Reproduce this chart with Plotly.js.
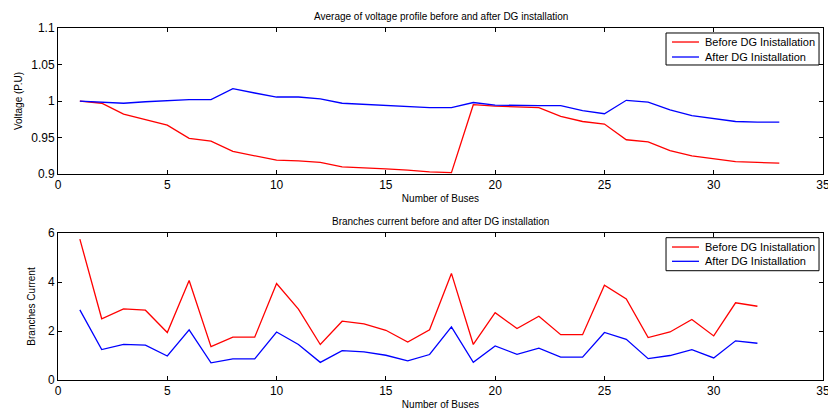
<!DOCTYPE html>
<html><head><meta charset="utf-8">
<script src="https://cdn.plot.ly/plotly-3.0.1.min.js"></script>
<style>body{margin:0;background:#fff}#c{width:828px;height:413px}</style>
</head><body><div id="c"></div>
<script>
const busV = [1,2,3,4,5,6,7,8,9,10,11,12,13,14,15,16,17,18,19,20,21,22,23,24,25,26,27,28,29,30,31,32,33];
const vBefore = [1.0,0.997,0.982,0.975,0.967,0.949,0.945,0.931,0.925,0.919,0.918,0.916,0.910,0.908,0.907,0.9055,0.903,0.902,0.995,0.993,0.992,0.991,0.979,0.972,0.9685,0.947,0.944,0.932,0.925,0.921,0.917,0.916,0.915];
const vAfter = [1.0,0.999,0.997,0.999,1.0005,1.002,1.002,1.017,1.011,1.0055,1.0055,1.003,0.997,0.9955,0.9945,0.9927,0.991,0.991,0.998,0.9945,0.9936,0.9936,0.9936,0.987,0.9826,1.001,0.9986,0.988,0.980,0.976,0.972,0.971,0.971];
const busI = [1,2,3,4,5,6,7,8,9,10,11,12,13,14,15,16,17,18,19,20,21,22,23,24,25,26,27,28,29,30,31,32];
const iBefore = [5.75,2.5,2.9,2.85,1.94,4.06,1.36,1.75,1.75,3.94,2.89,1.45,2.4,2.29,2.03,1.55,2.05,4.35,1.45,2.75,2.1,2.6,1.85,1.85,3.87,3.31,1.73,1.96,2.47,1.8,3.15,3.01];
const iAfter = [2.86,1.24,1.45,1.42,0.98,2.05,0.7,0.86,0.86,1.96,1.45,0.72,1.2,1.15,1.01,0.78,1.04,2.17,0.72,1.39,1.05,1.3,0.93,0.93,1.94,1.66,0.87,1.0,1.24,0.9,1.6,1.5];
const names = ['Before DG Inistallation','After DG Inistallation'];
const colors = ['#ff0000','#0000ff'];
const titles = ['Average of voltage profile before and after DG installation','Branches current before and after DG installation'];

const FONT = 'Liberation Sans, Arial, sans-serif';
const traces = [
  {x: busV, y: vBefore, name: names[0], mode:'lines', line:{color:colors[0], width:1.3}, xaxis:'x', yaxis:'y', showlegend:false},
  {x: busV, y: vAfter, name: names[1], mode:'lines', line:{color:colors[1], width:1.3}, xaxis:'x', yaxis:'y', showlegend:false},
  {x: busI, y: iBefore, name: names[0], mode:'lines', line:{color:colors[0], width:1.3}, xaxis:'x2', yaxis:'y2', showlegend:false},
  {x: busI, y: iAfter, name: names[1], mode:'lines', line:{color:colors[1], width:1.3}, xaxis:'x2', yaxis:'y2', showlegend:false}
];
const axBase = {showgrid:false, zeroline:false, showline:true, mirror:'ticks', linecolor:'#000', linewidth:1,
  ticks:'inside', ticklen:4, tickcolor:'#000', ticklabeloverflow:'allow', tickfont:{family:FONT, size:12, color:'#000'}};

// manual legend boxes (paper coords)
const shapes = [];
const annotations = [];
function addLegend(boxTop, boxBot, rowYs) {
  shapes.push({type:'rect', xref:'paper', yref:'paper', x0:0.7948, x1:0.9948, y0:boxBot, y1:boxTop, line:{color:'#000', width:1}, fillcolor:'#fff', layer:'above'});
  rowYs.forEach((yy, i) => {
    shapes.push({type:'line', xref:'paper', yref:'paper', x0:0.8026, x1:0.8379, y0:yy, y1:yy, line:{color:colors[i], width:1.3}, layer:'above'});
    annotations.push({text:names[i], xref:'paper', yref:'paper', x:0.8431, y:yy, xanchor:'left', yanchor:'middle', showarrow:false,
      font:{family:FONT, size:11, color:'#000'}});
  });
}
addLegend(0.9858, 0.8949, [0.9602, 0.9176]);
addLegend(0.4043, 0.3105, [0.3778, 0.3372]);
annotations.push(
  {text:titles[0], xref:'paper', yref:'paper', x:0.5, y:1, yshift:4, xanchor:'center', yanchor:'bottom', showarrow:false, font:{family:FONT, size:10, color:'#000'}},
  {text:titles[1], xref:'paper', yref:'paper', x:0.5, y:0.4176, yshift:4, xanchor:'center', yanchor:'bottom', showarrow:false, font:{family:FONT, size:10, color:'#000'}}
);

const layout = {
  width:828, height:413, paper_bgcolor:'#fff', plot_bgcolor:'#fff', showlegend:false,
  margin:{l:58, r:5, t:28, b:33},
  xaxis: Object.assign({}, axBase, {domain:[0,1], range:[0,35], tickvals:[0,5,10,15,20,25,30,35], anchor:'y',
     title:{text:'Number of Buses', font:{family:FONT, size:10, color:'#000'}, standoff:3}}),
  yaxis: Object.assign({}, axBase, {domain:[0.585,1], range:[0.9,1.1], tickvals:[0.9,0.95,1,1.05,1.1], ticktext:['0.9','0.95','1','1.05','1.1'], anchor:'x',
     title:{text:'Voltage (P.U)', font:{family:FONT, size:10, color:'#000'}, standoff:6}}),
  xaxis2: Object.assign({}, axBase, {domain:[0,1], range:[0,35], tickvals:[0,5,10,15,20,25,30,35], anchor:'y2',
     title:{text:'Number of Buses', font:{family:FONT, size:10, color:'#000'}, standoff:3}}),
  yaxis2: Object.assign({}, axBase, {domain:[0,0.4176], range:[0,6], tickvals:[0,2,4,6], anchor:'x2',
     title:{text:'Branches Current', font:{family:FONT, size:10, color:'#000'}, standoff:10}}),
  shapes: shapes,
  annotations: annotations
};
Plotly.newPlot('c', traces, layout, {displayModeBar:false, staticPlot:true});
</script></body></html>
